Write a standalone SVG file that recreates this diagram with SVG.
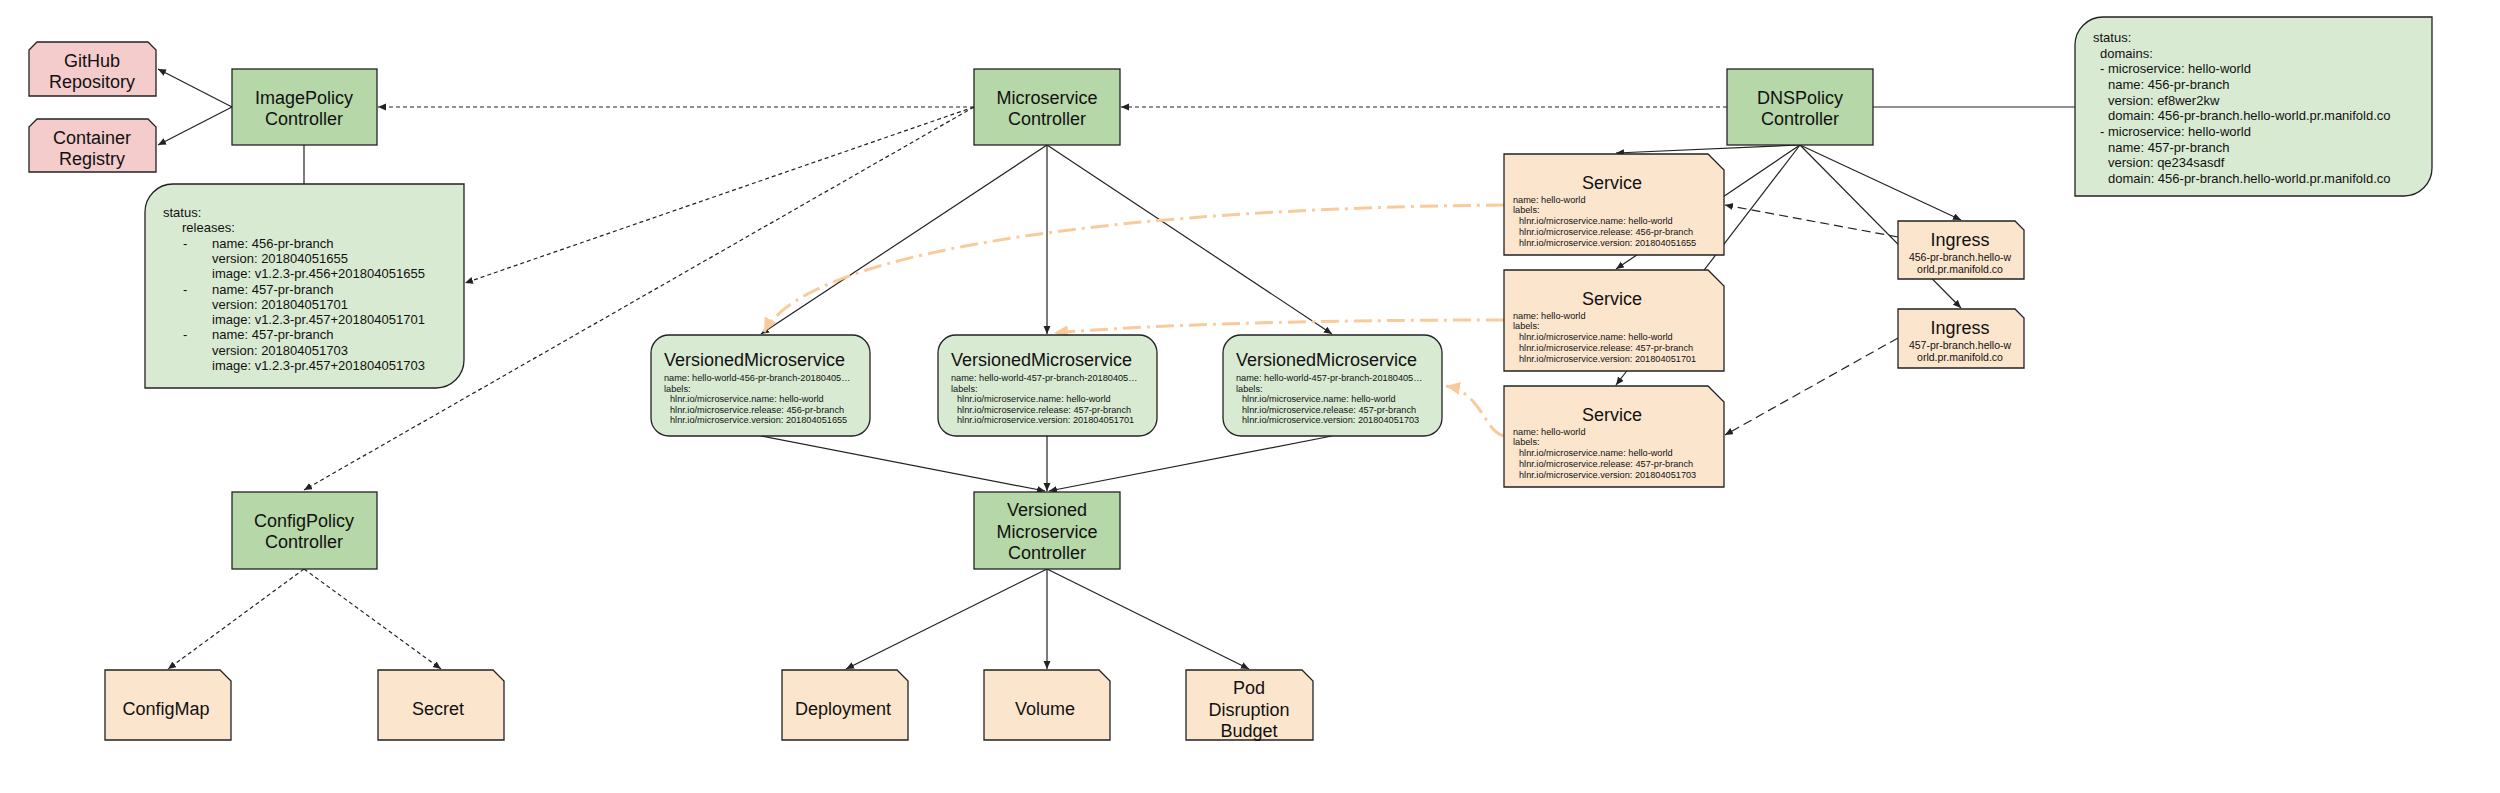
<svg xmlns="http://www.w3.org/2000/svg" width="2500" height="793" viewBox="0 0 2500 793">
<defs>
<style>
text{font-family:"Liberation Sans",Arial,sans-serif;fill:#111}
.t18{font-size:18px}
.t13{font-size:13px}
.t9{font-size:9.2px}
.t10{font-size:10.5px}
.mid{text-anchor:middle}
.ctl{fill:#b6d7a8;stroke:#222;stroke-width:1.3}
.lg{fill:#d9ead3;stroke:#222;stroke-width:1.3}
.pk{fill:#f4cccc;stroke:#222;stroke-width:1.3}
.or{fill:#fce5cd;stroke:#222;stroke-width:1.3}
.ln{fill:none;stroke:#222;stroke-width:1.2}
.arr{marker-end:url(#ah)}
.d1{stroke-dasharray:4 3}
.d2{stroke-dasharray:9 5}
.oc{fill:none;stroke:#f9cb9c;stroke-width:3;stroke-dasharray:18 6 3 6;marker-end:url(#oh)}
</style>
<marker id="ah" markerUnits="userSpaceOnUse" markerWidth="9" markerHeight="8" refX="8" refY="3.5" orient="auto">
<path d="M0,0 L8,3.5 L0,7 z" fill="#222"/>
</marker>
<marker id="oh" markerUnits="userSpaceOnUse" markerWidth="16" markerHeight="14" refX="14" refY="6.5" orient="auto">
<path d="M0,0 L14,6.5 L0,13 z" fill="#f9cb9c"/>
</marker>
</defs>
<rect width="2500" height="793" fill="#fff"/>

<g id="connectors">
<line class="ln arr" x1="232" y1="107" x2="158" y2="69"/>
<line class="ln arr" x1="232" y1="107" x2="158" y2="145"/>
<line class="ln" x1="304" y1="145" x2="304" y2="184"/>
<line class="ln arr" x1="1047" y1="145" x2="761" y2="334"/>
<line class="ln arr" x1="1047" y1="145" x2="1047" y2="334"/>
<line class="ln arr" x1="1047" y1="145" x2="1332" y2="334"/>
<line class="ln arr" x1="761" y1="436" x2="1045" y2="491"/>
<line class="ln arr" x1="1047" y1="436" x2="1047" y2="491"/>
<line class="ln arr" x1="1332" y1="436" x2="1049" y2="491"/>
<line class="ln arr" x1="1047" y1="569" x2="846" y2="669"/>
<line class="ln arr" x1="1047" y1="569" x2="1047" y2="669"/>
<line class="ln arr" x1="1047" y1="569" x2="1249" y2="669"/>
<line class="ln arr" x1="1800" y1="145" x2="1616" y2="153"/>
<line class="ln arr" x1="1800" y1="145" x2="1616" y2="269"/>
<line class="ln arr" x1="1800" y1="145" x2="1616" y2="385"/>
<line class="ln arr" x1="1800" y1="145" x2="1961" y2="220"/>
<line class="ln arr" x1="1800" y1="145" x2="1961" y2="308"/>
<line class="ln" x1="1873" y1="107" x2="2075" y2="107"/>
<line class="ln arr d1" x1="974" y1="107" x2="378" y2="107"/>
<line class="ln arr d1" x1="1727" y1="107" x2="1121" y2="107"/>
<line class="ln arr d1" x1="974" y1="107" x2="465" y2="283"/>
<line class="ln arr d1" x1="974" y1="107" x2="304" y2="490"/>
<line class="ln arr d1" x1="304" y1="569" x2="168" y2="669"/>
<line class="ln arr d1" x1="304" y1="569" x2="441" y2="669"/>
<line class="ln arr d2" x1="1898" y1="237" x2="1725" y2="205"/>
<line class="ln arr d2" x1="1898" y1="338" x2="1725" y2="435"/>
<path class="oc" d="M1504,205 C1150,208 810,245 764,332"/>
<path class="oc" d="M1504,320 C1300,320 1150,325 1054,333"/>
<path class="oc" d="M1504,436 C1484,432 1482,392 1446,386"/>
</g>

<g id="github">
<path class="pk" d="M37,42 H148 L156,50 V96 H29 V50 Z"/>
<text class="t18 mid" x="92" y="67">GitHub</text>
<text class="t18 mid" x="92" y="88">Repository</text>
</g>
<g id="registry">
<path class="pk" d="M37,119 H148 L156,127 V172 H29 V127 Z"/>
<text class="t18 mid" x="92" y="144">Container</text>
<text class="t18 mid" x="92" y="165">Registry</text>
</g>
<g id="imagepolicy">
<rect class="ctl" x="232" y="69" width="145" height="76"/>
<text class="t18 mid" x="304" y="104">ImagePolicy</text>
<text class="t18 mid" x="304" y="125">Controller</text>
</g>
<g id="imagestatus">
<path class="lg" d="M145,212 A28,28 0 0 1 173,184 H464 V360 A28,28 0 0 1 436,388 H145 Z"/>
<g class="t13">
<text x="163" y="217">status:</text>
<text x="182" y="232.3">releases:</text>
<text x="183" y="247.6">-</text><text x="212" y="247.6">name: 456-pr-branch</text>
<text x="212" y="262.9">version: 201804051655</text>
<text x="212" y="278.2">image: v1.2.3-pr.456+201804051655</text>
<text x="183" y="293.5">-</text><text x="212" y="293.5">name: 457-pr-branch</text>
<text x="212" y="308.8">version: 201804051701</text>
<text x="212" y="324.1">image: v1.2.3-pr.457+201804051701</text>
<text x="183" y="339.4">-</text><text x="212" y="339.4">name: 457-pr-branch</text>
<text x="212" y="354.7">version: 201804051703</text>
<text x="212" y="370">image: v1.2.3-pr.457+201804051703</text>
</g>
</g>
<g id="microservice">
<rect class="ctl" x="974" y="69" width="146" height="76"/>
<text class="t18 mid" x="1047" y="104">Microservice</text>
<text class="t18 mid" x="1047" y="125">Controller</text>
</g>
<g id="dnspolicy">
<rect class="ctl" x="1727" y="69" width="146" height="76"/>
<text class="t18 mid" x="1800" y="104">DNSPolicy</text>
<text class="t18 mid" x="1800" y="125">Controller</text>
</g>
<g id="dnsstatus">
<path class="lg" d="M2075,45 A28,28 0 0 1 2103,17 H2432 V168 A28,28 0 0 1 2404,196 H2075 Z"/>
<g class="t13">
<text x="2093" y="42">status:</text>
<text x="2100" y="57.7">domains:</text>
<text x="2100" y="73.3">- microservice: hello-world</text>
<text x="2108" y="89">name: 456-pr-branch</text>
<text x="2108" y="104.7">version: ef8wer2kw</text>
<text x="2108" y="120.3">domain: 456-pr-branch.hello-world.pr.manifold.co</text>
<text x="2100" y="136">- microservice: hello-world</text>
<text x="2108" y="151.7">name: 457-pr-branch</text>
<text x="2108" y="167.3">version: qe234sasdf</text>
<text x="2108" y="183">domain: 456-pr-branch.hello-world.pr.manifold.co</text>
</g>
</g>
<g id="vm1">
<rect class="lg" x="651" y="335" width="219" height="101" rx="18"/>
<text class="t18" x="664" y="366">VersionedMicroservice</text>
<g class="t9">
<text x="664" y="381">name: hello-world-456-pr-branch-20180405…</text>
<text x="664" y="391.5">labels:</text>
<text x="670" y="402">hlnr.io/microservice.name: hello-world</text>
<text x="670" y="412.5">hlnr.io/microservice.release: 456-pr-branch</text>
<text x="670" y="423">hlnr.io/microservice.version: 201804051655</text>
</g>
</g>
<g id="vm2">
<rect class="lg" x="938" y="335" width="219" height="101" rx="18"/>
<text class="t18" x="951" y="366">VersionedMicroservice</text>
<g class="t9">
<text x="951" y="381">name: hello-world-457-pr-branch-20180405…</text>
<text x="951" y="391.5">labels:</text>
<text x="957" y="402">hlnr.io/microservice.name: hello-world</text>
<text x="957" y="412.5">hlnr.io/microservice.release: 457-pr-branch</text>
<text x="957" y="423">hlnr.io/microservice.version: 201804051701</text>
</g>
</g>
<g id="vm3">
<rect class="lg" x="1223" y="335" width="219" height="101" rx="18"/>
<text class="t18" x="1236" y="366">VersionedMicroservice</text>
<g class="t9">
<text x="1236" y="381">name: hello-world-457-pr-branch-20180405…</text>
<text x="1236" y="391.5">labels:</text>
<text x="1242" y="402">hlnr.io/microservice.name: hello-world</text>
<text x="1242" y="412.5">hlnr.io/microservice.release: 457-pr-branch</text>
<text x="1242" y="423">hlnr.io/microservice.version: 201804051703</text>
</g>
</g>
<g id="service1">
<path class="or" d="M1504,154 H1708 L1724,170 V255 H1504 Z"/>
<text class="t18 mid" x="1612" y="189">Service</text>
<g class="t9">
<text x="1513" y="202.5">name: hello-world</text>
<text x="1513" y="213.3">labels:</text>
<text x="1519" y="224">hlnr.io/microservice.name: hello-world</text>
<text x="1519" y="234.8">hlnr.io/microservice.release: 456-pr-branch</text>
<text x="1519" y="245.6">hlnr.io/microservice.version: 201804051655</text>
</g>
</g>
<g id="service2">
<path class="or" d="M1504,270 H1708 L1724,286 V371 H1504 Z"/>
<text class="t18 mid" x="1612" y="305">Service</text>
<g class="t9">
<text x="1513" y="318.5">name: hello-world</text>
<text x="1513" y="329.3">labels:</text>
<text x="1519" y="340">hlnr.io/microservice.name: hello-world</text>
<text x="1519" y="350.8">hlnr.io/microservice.release: 457-pr-branch</text>
<text x="1519" y="361.6">hlnr.io/microservice.version: 201804051701</text>
</g>
</g>
<g id="service3">
<path class="or" d="M1504,386 H1708 L1724,402 V487 H1504 Z"/>
<text class="t18 mid" x="1612" y="421">Service</text>
<g class="t9">
<text x="1513" y="434.5">name: hello-world</text>
<text x="1513" y="445.3">labels:</text>
<text x="1519" y="456">hlnr.io/microservice.name: hello-world</text>
<text x="1519" y="466.8">hlnr.io/microservice.release: 457-pr-branch</text>
<text x="1519" y="477.6">hlnr.io/microservice.version: 201804051703</text>
</g>
</g>
<g id="ingress1">
<path class="or" d="M1898,221 H2015 L2024,230 V279 H1898 Z"/>
<text class="t18 mid" x="1960" y="246">Ingress</text>
<text class="t10 mid" x="1960" y="261">456-pr-branch.hello-w</text>
<text class="t10 mid" x="1960" y="273">orld.pr.manifold.co</text>
</g>
<g id="ingress2">
<path class="or" d="M1898,309 H2015 L2024,318 V368 H1898 Z"/>
<text class="t18 mid" x="1960" y="334">Ingress</text>
<text class="t10 mid" x="1960" y="349">457-pr-branch.hello-w</text>
<text class="t10 mid" x="1960" y="361">orld.pr.manifold.co</text>
</g>
<g id="configpolicy">
<rect class="ctl" x="232" y="492" width="145" height="77"/>
<text class="t18 mid" x="304" y="527">ConfigPolicy</text>
<text class="t18 mid" x="304" y="548">Controller</text>
</g>
<g id="configmap">
<path class="or" d="M105,670 H220 L231,681 V740 H105 Z"/>
<text class="t18 mid" x="166" y="715">ConfigMap</text>
</g>
<g id="secret">
<path class="or" d="M378,670 H493 L504,681 V740 H378 Z"/>
<text class="t18 mid" x="438" y="715">Secret</text>
</g>
<g id="vmcontroller">
<rect class="ctl" x="974" y="492" width="146" height="77"/>
<text class="t18 mid" x="1047" y="516">Versioned</text>
<text class="t18 mid" x="1047" y="538">Microservice</text>
<text class="t18 mid" x="1047" y="559">Controller</text>
</g>
<g id="deployment">
<path class="or" d="M782,670 H897 L908,681 V740 H782 Z"/>
<text class="t18 mid" x="843" y="715">Deployment</text>
</g>
<g id="volume">
<path class="or" d="M984,670 H1099 L1110,681 V740 H984 Z"/>
<text class="t18 mid" x="1045" y="715">Volume</text>
</g>
<g id="pdb">
<path class="or" d="M1186,670 H1302 L1313,681 V740 H1186 Z"/>
<text class="t18 mid" x="1249" y="694">Pod</text>
<text class="t18 mid" x="1249" y="716">Disruption</text>
<text class="t18 mid" x="1249" y="737">Budget</text>
</g>
</svg>
